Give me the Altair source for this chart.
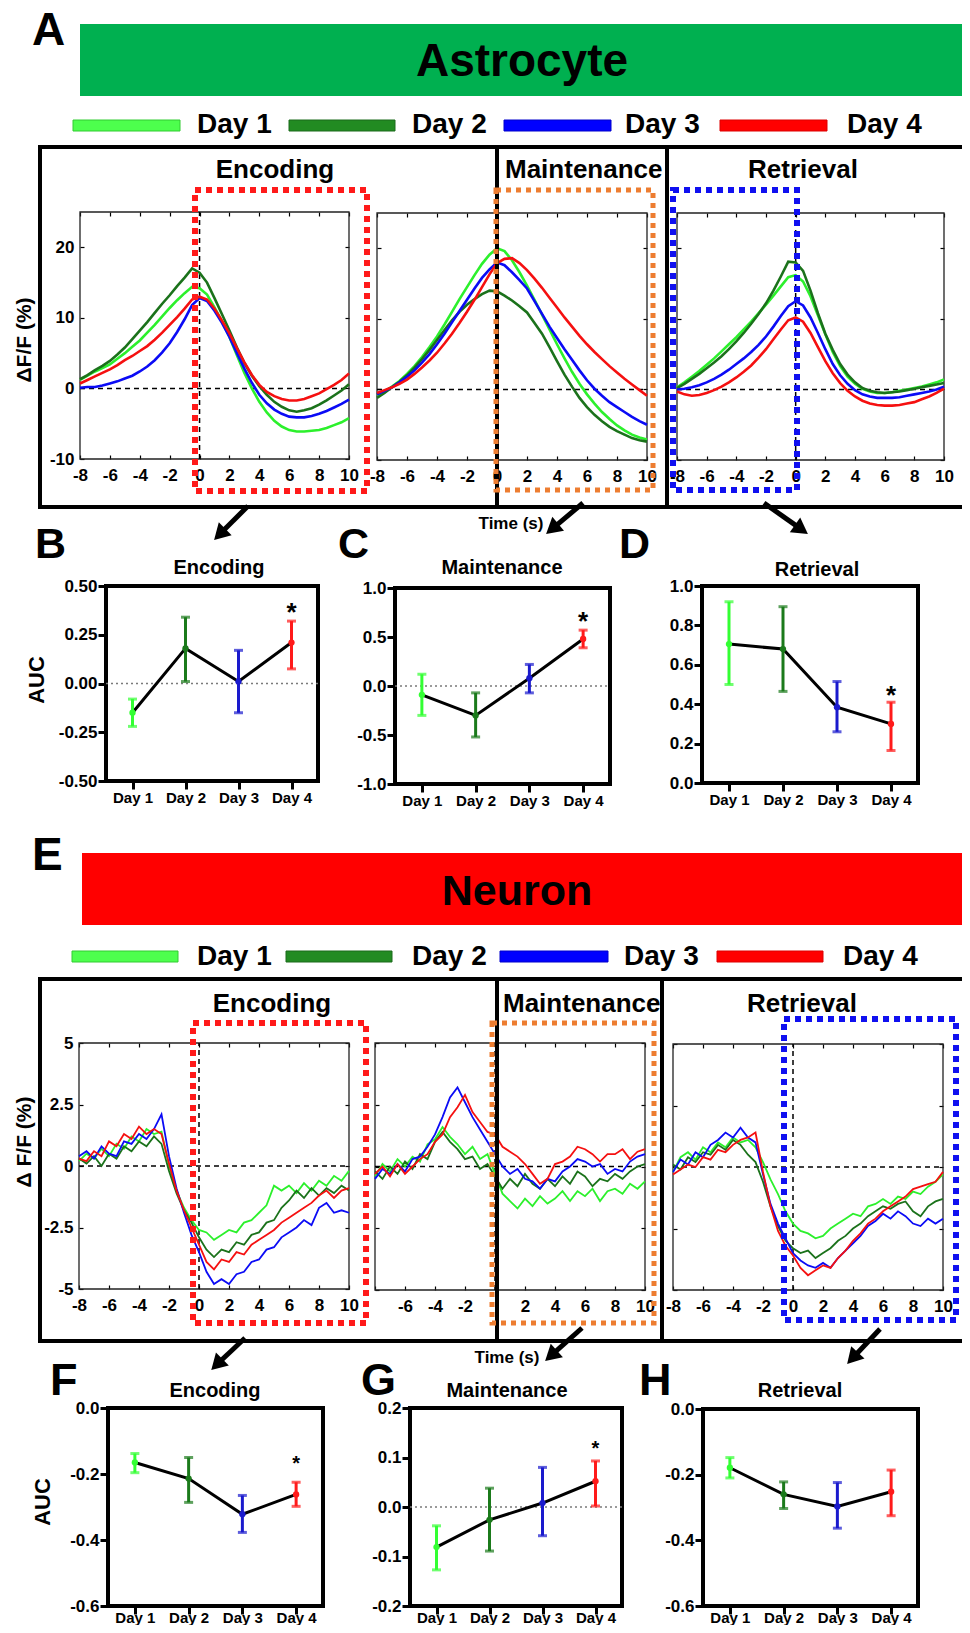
import altair as alt
import pandas as pd

# ---------------------------------------------------------------- page geometry
M = 8                      # page margin
W, H = 954, 1617           # drawing size (reference pixels minus margins)
FONT = "Liberation Sans"

# ---------------------------------------------------------------- data
DAYS = ["Day 1", "Day 2", "Day 3", "Day 4"]
DAY_NUM = [1, 2, 3, 4]
TRACE_COLORS = ["#2cf02c", "#1b721b", "#0b0bf5", "#f51010"]
AUC_COLORS = ["#33ff33", "#1b7a1b", "#1a1acd", "#ff1a1a"]
LEGEND_FILL = ["#4dff4d", "#228b22", "#0000ff", "#ff0000"]
LEGEND_EDGE = ["#33cc33", "#1a6b1a", "#0000cc", "#dd0000"]

TIME = [-8.0, -7.5, -7.0, -6.5, -6.0, -5.5, -5.0, -4.5, -4.0, -3.5, -3.0, -2.5, -2.0, -1.5, -1.0, -0.5,
        0.0, 0.5, 1.0, 1.5, 2.0, 2.5, 3.0, 3.5, 4.0, 4.5, 5.0, 5.5, 6.0, 6.5, 7.0, 7.5, 8.0, 8.5, 9.0, 9.5, 10.0]

# Astrocyte dF/F (%) traces
AST_ENC_D1 = [1.2, 1.8, 2.4, 2.9, 3.4, 4.2, 5.0, 5.9, 6.8, 7.9, 9.0, 10.2, 11.4, 12.5, 13.5, 14.4,
              14.2, 13.3, 11.5, 9.5, 7.3, 4.7, 2.2, 0.0, -1.9, -3.4, -4.6, -5.4, -5.9, -6.1, -6.1, -6.0, -5.9, -5.6, -5.2, -4.8, -4.2]
AST_ENC_D2 = [1.3, 1.9, 2.6, 3.2, 3.9, 4.8, 5.8, 7.0, 8.2, 9.4, 10.7, 12.0, 13.2, 14.5, 15.7, 17.0,
              16.4, 15.0, 12.8, 10.5, 8.2, 5.8, 3.6, 1.8, 0.3, -0.9, -1.9, -2.6, -3.1, -3.3, -3.1, -2.8, -2.3, -1.7, -1.0, -0.3, 0.6]
AST_ENC_D3 = [0.1, 0.2, 0.2, 0.4, 0.7, 1.0, 1.4, 1.8, 2.4, 3.1, 4.0, 5.1, 6.4, 8.0, 9.8, 11.8,
              12.8, 12.4, 11.0, 9.3, 7.3, 5.0, 2.8, 0.8, -0.9, -2.1, -3.0, -3.6, -4.0, -4.1, -4.1, -3.9, -3.6, -3.2, -2.7, -2.2, -1.6]
AST_ENC_D4 = [0.7, 1.2, 1.7, 2.2, 2.7, 3.3, 4.0, 4.6, 5.3, 6.0, 6.9, 7.9, 9.0, 10.1, 11.3, 12.6,
              13.0, 12.6, 11.3, 9.6, 7.8, 5.7, 3.7, 1.9, 0.5, -0.5, -1.1, -1.5, -1.7, -1.7, -1.5, -1.1, -0.7, -0.1, 0.5, 1.2, 2.1]

AST_MNT_D1 = [-0.8, -0.3, 0.4, 1.2, 2.2, 3.3, 4.6, 6.0, 7.5, 9.2, 11.0, 12.8, 14.5, 16.2, 17.8, 19.1,
              20.0, 19.6, 18.3, 16.6, 14.7, 12.7, 10.6, 8.5, 6.4, 4.4, 2.5, 0.8, -0.7, -2.0, -3.2, -4.2, -5.1, -5.8, -6.4, -6.8, -7.1]
AST_MNT_D2 = [-1.2, -0.5, 0.3, 1.1, 2.0, 3.1, 4.3, 5.6, 7.0, 8.4, 9.8, 11.0, 12.0, 12.8, 13.5, 14.0,
              13.9, 13.3, 12.6, 11.8, 10.9, 9.4, 7.9, 6.0, 4.0, 2.1, 0.4, -1.2, -2.5, -3.6, -4.5, -5.3, -5.9, -6.4, -6.9, -7.2, -7.4]
AST_MNT_D3 = [-0.7, -0.2, 0.3, 1.0, 1.8, 2.7, 3.8, 5.0, 6.4, 7.9, 9.5, 11.1, 12.7, 14.3, 15.8, 17.0,
              18.0, 17.6, 16.6, 15.5, 14.3, 12.5, 10.7, 8.9, 7.3, 5.7, 4.2, 2.7, 1.3, 0.1, -0.9, -1.8, -2.5, -3.2, -3.9, -4.5, -5.0]
AST_MNT_D4 = [-0.5, -0.1, 0.3, 0.8, 1.4, 2.2, 3.1, 4.1, 5.2, 6.5, 7.9, 9.4, 11.0, 12.7, 14.5, 16.3,
              17.9, 18.5, 18.6, 17.9, 16.9, 15.7, 14.4, 13.0, 11.6, 10.2, 8.9, 7.6, 6.4, 5.3, 4.3, 3.3, 2.4, 1.5, 0.7, -0.1, -0.9]

AST_RET_D1 = [0.3, 1.0, 1.8, 2.6, 3.5, 4.4, 5.4, 6.4, 7.4, 8.5, 9.6, 10.8, 12.0, 13.3, 14.6, 15.9,
              16.2, 15.3, 13.2, 10.5, 7.8, 5.3, 3.3, 1.8, 0.8, 0.1, -0.3, -0.5, -0.5, -0.4, -0.2, 0.0, 0.2, 0.4, 0.7, 1.0, 1.4]
AST_RET_D2 = [0.2, 0.8, 1.5, 2.2, 3.0, 3.8, 4.7, 5.7, 6.8, 8.0, 9.3, 10.7, 12.2, 14.0, 16.0, 18.1,
              18.0, 16.8, 14.0, 10.8, 7.9, 5.6, 3.6, 2.1, 1.0, 0.2, -0.2, -0.4, -0.5, -0.4, -0.3, -0.1, 0.1, 0.3, 0.5, 0.7, 0.9]
AST_RET_D3 = [0.0, 0.1, 0.3, 0.6, 1.0, 1.5, 2.1, 2.8, 3.6, 4.4, 5.3, 6.3, 7.5, 8.9, 10.4, 11.8,
              12.5, 11.9, 10.2, 8.0, 5.7, 3.6, 2.0, 0.8, -0.1, -0.7, -1.0, -1.2, -1.2, -1.2, -1.1, -0.9, -0.7, -0.5, -0.3, 0.0, 0.4]
AST_RET_D4 = [-0.3, -0.7, -0.9, -0.8, -0.5, -0.1, 0.4, 1.0, 1.7, 2.5, 3.4, 4.5, 5.7, 7.1, 8.5, 9.8,
              10.2, 9.6, 8.0, 6.0, 4.0, 2.3, 0.9, -0.2, -1.0, -1.6, -2.0, -2.2, -2.3, -2.3, -2.2, -2.0, -1.8, -1.4, -1.0, -0.5, 0.1]

# Neuron dF/F (%) traces
NEU_ENC_D1 = [0.2, 0.5, 0.3, 0.7, 0.4, 0.9, 0.7, 1.2, 1.0, 1.5, 1.3, 1.4, 0.0, -1.0, -1.7, -2.2,
              -2.6, -2.7, -3.0, -2.8, -2.6, -2.7, -2.3, -2.2, -1.9, -1.6, -0.8, -1.0, -0.8, -1.1, -0.7, -1.0, -0.6, -0.8, -0.4, -0.6, -0.2]
NEU_ENC_D2 = [0.3, 0.1, 0.4, 0.0, 0.5, 0.3, 0.8, 0.6, 1.0, 0.8, 1.2, 0.9, -0.2, -1.1, -1.8, -2.3,
              -2.9, -3.4, -3.7, -3.4, -3.5, -3.1, -3.2, -2.8, -2.7, -2.3, -2.2, -1.7, -1.4, -1.0, -1.3, -0.9, -1.2, -0.9, -1.1, -0.8, -1.0]
NEU_ENC_D3 = [0.4, 0.6, 0.3, 0.8, 0.5, 0.4, 1.0, 0.9, 1.3, 1.1, 1.5, 2.1, 0.4, -0.9, -1.9, -2.8,
              -3.5, -4.3, -4.8, -4.6, -4.8, -4.4, -4.3, -3.9, -3.8, -3.4, -3.3, -2.9, -2.7, -2.5, -2.2, -2.4, -1.7, -1.5, -1.9, -1.8, -1.9]
NEU_ENC_D4 = [0.3, 0.2, 0.6, 0.4, 1.0, 0.8, 1.3, 1.1, 1.6, 1.3, 1.5, 1.3, 0.1, -1.0, -1.8, -2.5,
              -3.2, -3.9, -4.2, -3.8, -3.9, -3.5, -3.6, -3.2, -3.0, -2.8, -2.6, -2.3, -2.1, -1.9, -1.7, -1.5, -1.2, -1.0, -1.3, -1.0, -0.9]

NEU_MNT_D1 = [-0.4, 0.1, -0.2, 0.3, 0.0, 0.4, 0.2, 0.9, 1.1, 1.6, 1.2, 0.9, 0.5, 0.8, 0.3, 0.5,
              -0.3, -1.1, -1.4, -1.7, -1.3, -1.6, -1.2, -1.5, -1.3, -1.0, -1.4, -1.0, -1.2, -0.9, -1.4, -1.0, -0.9, -1.1, -0.7, -0.9, -0.6]
NEU_MNT_D2 = [-0.2, -0.5, 0.0, -0.3, 0.2, -0.1, 0.5, 0.3, 1.0, 1.4, 1.0, 0.7, 0.3, 0.4, -0.1, 0.1,
              -0.4, -0.9, -0.5, -0.8, -0.3, -0.7, -0.9, -0.5, -0.8, -0.4, -0.7, -0.2, -0.4, -0.8, -0.5, -0.6, -0.3, -0.5, -0.2, 0.0, 0.1]
NEU_MNT_D3 = [-0.5, -0.1, -0.3, 0.1, -0.2, 0.3, 0.4, 0.8, 1.3, 2.0, 2.8, 3.2, 2.6, 2.0, 1.5, 1.0,
              0.5, 0.0, -0.3, -0.1, -0.5, -0.6, -0.9, -0.5, -0.6, -0.2, 0.0, 0.3, 0.2, 0.0, 0.1, -0.3, -0.1, -0.2, 0.2, 0.4, 0.5]
NEU_MNT_D4 = [-0.3, 0.0, -0.4, 0.1, -0.3, 0.0, 0.3, 0.5, 1.0, 1.3, 2.0, 2.4, 2.9, 2.2, 1.8, 1.4,
              1.3, 0.8, 0.6, 0.4, 0.1, -0.3, -0.7, -0.5, 0.1, 0.2, 0.4, 0.8, 0.7, 0.5, 0.2, 0.5, 0.5, 0.7, 0.3, 0.6, 0.7]

NEU_RET_D1 = [-0.2, 0.4, 0.6, 0.3, 0.8, 0.6, 1.0, 0.8, 1.2, 1.0, 1.1, 0.8, 0.2, -0.5, -1.1, -1.8,
              -2.3, -2.6, -2.7, -2.9, -2.8, -2.5, -2.3, -2.1, -1.9, -2.0, -1.6, -1.5, -1.3, -1.5, -1.2, -1.3, -1.0, -1.1, -0.8, -0.6, -0.3]
NEU_RET_D2 = [0.1, -0.1, 0.4, 0.2, 0.6, 0.5, 0.9, 0.7, 1.1, 0.9, 0.5, 0.2, -0.6, -1.6, -2.4, -3.0,
              -3.3, -3.5, -3.4, -3.7, -3.5, -3.3, -3.0, -2.8, -2.5, -2.3, -2.0, -1.8, -1.6, -1.7, -1.5, -1.4, -1.8, -2.0, -1.6, -1.4, -1.3]
NEU_RET_D3 = [-0.2, 0.3, 0.1, 0.6, 0.4, 0.9, 1.1, 1.4, 1.2, 1.6, 1.2, 1.0, -0.3, -1.5, -2.3, -2.9,
              -3.5, -3.8, -4.0, -4.1, -3.9, -4.1, -3.7, -3.4, -3.1, -2.8, -2.4, -2.2, -1.9, -2.1, -1.8, -2.0, -2.3, -2.4, -2.1, -2.3, -2.1]
NEU_RET_D4 = [-0.3, -0.1, 0.1, 0.0, 0.4, 0.3, 0.7, 0.6, 0.9, 1.1, 1.2, 1.4, -0.2, -1.6, -2.6, -3.2,
              -3.6, -4.1, -4.4, -4.2, -4.0, -4.1, -3.7, -3.4, -3.0, -2.7, -2.3, -2.1, -1.8, -1.6, -1.4, -1.2, -0.9, -0.8, -0.7, -0.6, -0.2]

# AUC summaries (mean, lower, upper error)
B_MEAN = [-0.15, 0.18, 0.01, 0.21]
B_LO = [-0.22, 0.01, -0.15, 0.075]
B_HI = [-0.08, 0.34, 0.17, 0.32]
C_MEAN = [-0.09, -0.30, 0.08, 0.48]
C_LO = [-0.30, -0.52, -0.07, 0.39]
C_HI = [0.12, -0.07, 0.22, 0.57]
D_MEAN = [0.705, 0.68, 0.385, 0.30]
D_LO = [0.50, 0.465, 0.26, 0.165]
D_HI = [0.92, 0.895, 0.515, 0.41]
F_MEAN = [-0.165, -0.214, -0.322, -0.262]
F_LO = [-0.196, -0.286, -0.377, -0.298]
F_HI = [-0.138, -0.15, -0.265, -0.225]
G_MEAN = [-0.081, -0.026, 0.008, 0.052]
G_LO = [-0.127, -0.089, -0.058, 0.002]
G_HI = [-0.038, 0.038, 0.08, 0.093]
H_MEAN = [-0.179, -0.26, -0.297, -0.252]
H_LO = [-0.21, -0.303, -0.363, -0.325]
H_HI = [-0.148, -0.222, -0.224, -0.186]

for s in [AST_ENC_D1, AST_ENC_D2, AST_ENC_D3, AST_ENC_D4, AST_MNT_D1, AST_MNT_D2, AST_MNT_D3, AST_MNT_D4,
          AST_RET_D1, AST_RET_D2, AST_RET_D3, AST_RET_D4, NEU_ENC_D1, NEU_ENC_D2, NEU_ENC_D3, NEU_ENC_D4,
          NEU_MNT_D1, NEU_MNT_D2, NEU_MNT_D3, NEU_MNT_D4, NEU_RET_D1, NEU_RET_D2, NEU_RET_D3, NEU_RET_D4]:
    assert len(s) == len(TIME), len(s)

# ---------------------------------------------------------------- layout (reference pixels)
TRACE_BOX = {
    "ast_enc": (80, 349, 212, 459), "ast_mnt": (377, 647, 213, 460), "ast_ret": (677, 944, 213, 460),
    "neu_enc": (79, 349, 1043, 1289), "neu_mnt": (375, 645, 1043, 1290), "neu_ret": (673, 943, 1044, 1290),
}
AUC_BOX = {
    "B": (106, 318, 586, 781), "C": (395, 610, 588, 784), "D": (702, 918, 586, 783),
    "F": (108, 323, 1408, 1606), "G": (410, 622, 1408, 1606), "H": (703, 918, 1409, 1606),
}

# ---------------------------------------------------------------- helpers
def sx(dom, a, b):
    return alt.Scale(domain=dom, range=[a - M, b - M], nice=False, zero=False)


def sy(dom, top, bot):
    return alt.Scale(domain=dom, range=[bot - M, top - M], nice=False, zero=False)


def axis(orient, pos, **kw):
    if orient == "bottom":
        off = (pos - M) - H
    elif orient == "top":
        off = -(pos - M)
    elif orient == "left":
        off = -(pos - M)
    else:
        off = (pos - M) - W
    d = dict(grid=False, labelFont=FONT, labelFontWeight="bold", labelColor="black",
             tickColor="black", domain=False, labelOverlap=False, labelFlush=False, labelBound=False)
    d.update(kw)
    return alt.Axis(orient=orient, offset=off, **d)


LX = alt.Scale(domain=[M, M + W], range=[0, W], nice=False, zero=False)
LY = alt.Scale(domain=[M, M + H], range=[0, H], nice=False, zero=False)


def LXc(f):
    return alt.X(f + ":Q", scale=LX, axis=None)


def LYc(f):
    return alt.Y(f + ":Q", scale=LY, axis=None)


XT = [-8, -6, -4, -2, 0, 2, 4, 6, 8, 10]


def trace_panel(series, box, ydom, yticks, sw, xlabel_expr, show_ylabels):
    x0, x1, yt, yb = box
    SX = sx([-8, 10], x0, x1)
    SY = sy(ydom, yt, yb)
    rows = []
    for i, d in enumerate(DAYS):
        for t, v in zip(TIME, series[i]):
            rows.append({"t": t, "v": v, "day": d, "c": TRACE_COLORS[i]})
    df = pd.DataFrame(rows)
    out = []
    frame = pd.DataFrame({"x": [-8], "x2": [10], "y": [ydom[0]], "y2": [ydom[1]]})
    out.append(alt.Chart(frame).mark_rect(fillOpacity=0, stroke="#222", strokeWidth=1.3).encode(
        x=alt.X("x:Q", scale=SX, title=None,
                axis=axis("top", yb, values=XT, labels=False, tickSize=4, tickWidth=1.2)),
        x2=alt.X2("x2"),
        y=alt.Y("y:Q", scale=SY, title=None,
                axis=axis("right", x0, values=yticks, labels=False, tickSize=4, tickWidth=1.2)),
        y2=alt.Y2("y2")))
    zl = pd.DataFrame({"x": [-8, 0], "x2": [10, 0], "y": [0, ydom[0]], "y2": [0, ydom[1]]})
    out.append(alt.Chart(zl).mark_rule(color="black", strokeDash=[5, 4], strokeWidth=1.5).encode(
        x=alt.X("x:Q", scale=SX, title=None,
                axis=axis("bottom", yt, values=XT, labels=False, tickSize=4, tickWidth=1.2)),
        x2=alt.X2("x2"),
        y=alt.Y("y:Q", scale=SY, title=None,
                axis=axis("left", x1, values=yticks, labels=False, tickSize=4, tickWidth=1.2)),
        y2=alt.Y2("y2")))
    xlab = axis("bottom", yb, values=XT, ticks=False, tickSize=0, labelFontSize=17, labelPadding=8,
                labelExpr=xlabel_expr)
    if show_ylabels:
        ylab = axis("left", x0, values=yticks, ticks=False, tickSize=0, labelFontSize=17, labelPadding=6,
                    labelExpr="'' + datum.value")
    else:
        ylab = None
    out.append(alt.Chart(df).mark_line(strokeWidth=sw).encode(
        x=alt.X("t:Q", scale=SX, axis=xlab, title=None),
        y=alt.Y("v:Q", scale=SY, axis=ylab, title=None),
        color=alt.Color("c:N", scale=None),
        detail=alt.Detail("day:N")))
    return out


def auc_panel(mean, lo, hi, box, ydom, yticks, yfmt, zero_line, star_dy=None, star_fs=26, xpad=1):
    x0, x1, yt, yb = box
    SX = sx([0.5, 4.5], x0, x1)
    SY = sy(ydom, yt, yb)
    df = pd.DataFrame({"d": DAY_NUM, "m": mean, "lo": lo, "hi": hi, "c": AUC_COLORS})
    caps = pd.DataFrame({"d": DAY_NUM + DAY_NUM, "y": lo + hi, "c": AUC_COLORS + AUC_COLORS})
    out = []
    frame = pd.DataFrame({"x": [0.5], "x2": [4.5], "y": [ydom[0]], "y2": [ydom[1]]})
    xa = axis("bottom", yb, values=DAY_NUM, labelExpr="'Day ' + datum.value", labelFontSize=15,
              tickSize=8, tickWidth=3, labelPadding=xpad)
    ya = axis("left", x0, values=yticks,
              labelExpr="replace(format(datum.value, '" + yfmt + "'), '\u2212', '-')",
              labelFontSize=17, tickSize=8, tickWidth=3, labelPadding=1)
    out.append(alt.Chart(frame).mark_rect(fillOpacity=0, stroke="black", strokeWidth=4).encode(
        x=alt.X("x:Q", scale=SX, axis=xa, title=None), x2=alt.X2("x2"),
        y=alt.Y("y:Q", scale=SY, axis=ya, title=None), y2=alt.Y2("y2")))
    if zero_line:
        z = pd.DataFrame({"x": [0.5], "x2": [4.5], "y": [0.0]})
        out.append(alt.Chart(z).mark_rule(color="#7a7a7a", strokeDash=[2, 3], strokeWidth=1.6).encode(
            x=alt.X("x:Q", scale=SX, axis=None), x2=alt.X2("x2"),
            y=alt.Y("y:Q", scale=SY, axis=None)))
    out.append(alt.Chart(df).mark_line(color="black", strokeWidth=3).encode(
        x=alt.X("d:Q", scale=SX, axis=None), y=alt.Y("m:Q", scale=SY, axis=None)))
    out.append(alt.Chart(df).mark_rule(strokeWidth=3).encode(
        x=alt.X("d:Q", scale=SX, axis=None), y=alt.Y("lo:Q", scale=SY, axis=None), y2=alt.Y2("hi"),
        color=alt.Color("c:N", scale=None)))
    out.append(alt.Chart(caps).mark_tick(orient="horizontal", size=9, thickness=3).encode(
        x=alt.X("d:Q", scale=SX, axis=None), y=alt.Y("y:Q", scale=SY, axis=None),
        color=alt.Color("c:N", scale=None)))
    out.append(alt.Chart(df).mark_point(filled=True, size=40, opacity=1).encode(
        x=alt.X("d:Q", scale=SX, axis=None), y=alt.Y("m:Q", scale=SY, axis=None),
        color=alt.Color("c:N", scale=None)))
    if star_dy is not None:
        st = pd.DataFrame({"d": [4], "y": [hi[3]]})
        out.append(alt.Chart(st).mark_text(text="*", font=FONT, fontSize=star_fs, fontWeight="bold",
                                           align="center", baseline="alphabetic", dy=star_dy,
                                           color="black").encode(
            x=alt.X("d:Q", scale=SX, axis=None), y=alt.Y("y:Q", scale=SY, axis=None)))
    return out


layers = []

# ---------------------------------------------------------------- banners and legends
ban = pd.DataFrame({"x": [80, 82], "x2": [964, 964], "y": [24, 853], "y2": [96, 925],
                    "f": ["#00b050", "#ff0000"]})
layers.append(alt.Chart(ban).mark_rect().encode(
    x=LXc("x"), x2=alt.X2("x2"), y=LYc("y"), y2=alt.Y2("y2"), color=alt.Color("f:N", scale=None)))

LEG_X = [(73, 180), (289, 395), (504, 611), (720, 827), (72, 178), (286, 392), (500, 608), (717, 823)]
LEG_Y = [(120, 131)] * 4 + [(951, 962)] * 4
leg = pd.DataFrame({"x": [a for a, b in LEG_X], "x2": [b for a, b in LEG_X],
                    "y": [a for a, b in LEG_Y], "y2": [b for a, b in LEG_Y],
                    "f": LEGEND_FILL * 2, "e": LEGEND_EDGE * 2})
layers.append(alt.Chart(leg).mark_rect(strokeWidth=1).encode(
    x=LXc("x"), x2=alt.X2("x2"), y=LYc("y"), y2=alt.Y2("y2"),
    color=alt.Color("f:N", scale=None), stroke=alt.Stroke("e:N", scale=None)))

# ---------------------------------------------------------------- trace panels
ALL = "'' + datum.value"
layers += trace_panel([AST_ENC_D1, AST_ENC_D2, AST_ENC_D3, AST_ENC_D4], TRACE_BOX["ast_enc"],
                      [-10, 25], [-10, 0, 10, 20], 2.6, ALL, True)
layers += trace_panel([AST_MNT_D1, AST_MNT_D2, AST_MNT_D3, AST_MNT_D4], TRACE_BOX["ast_mnt"],
                      [-10, 25], [-10, 0, 10, 20], 2.6, ALL, False)
layers += trace_panel([AST_RET_D1, AST_RET_D2, AST_RET_D3, AST_RET_D4], TRACE_BOX["ast_ret"],
                      [-10, 25], [-10, 0, 10, 20], 2.6, ALL, False)
layers += trace_panel([NEU_ENC_D1, NEU_ENC_D2, NEU_ENC_D3, NEU_ENC_D4], TRACE_BOX["neu_enc"],
                      [-5, 5], [-5, -2.5, 0, 2.5, 5], 1.8, ALL, True)
layers += trace_panel([NEU_MNT_D1, NEU_MNT_D2, NEU_MNT_D3, NEU_MNT_D4], TRACE_BOX["neu_mnt"],
                      [-5, 5], [-5, -2.5, 0, 2.5, 5], 1.8,
                      "datum.value == -8 || datum.value == 0 ? '' : '' + datum.value", False)
layers += trace_panel([NEU_RET_D1, NEU_RET_D2, NEU_RET_D3, NEU_RET_D4], TRACE_BOX["neu_ret"],
                      [-5, 5], [-5, -2.5, 0, 2.5, 5], 1.8, ALL, False)

# ---------------------------------------------------------------- AUC panels
layers += auc_panel(B_MEAN, B_LO, B_HI, AUC_BOX["B"], [-0.5, 0.5], [-0.5, -0.25, 0, 0.25, 0.5], ".2f", True, 0, 26)
layers += auc_panel(C_MEAN, C_LO, C_HI, AUC_BOX["C"], [-1, 1], [-1, -0.5, 0, 0.5, 1], ".1f", True, 0, 26)
layers += auc_panel(D_MEAN, D_LO, D_HI, AUC_BOX["D"], [0, 1], [0, 0.2, 0.4, 0.6, 0.8, 1.0], ".1f", False, 2, 26)
layers += auc_panel(F_MEAN, F_LO, F_HI, AUC_BOX["F"], [-0.6, 0], [-0.6, -0.4, -0.2, 0], ".1f", False, -12, 20, -4)
layers += auc_panel(G_MEAN, G_LO, G_HI, AUC_BOX["G"], [-0.2, 0.2], [-0.2, -0.1, 0, 0.1, 0.2], ".1f", True, -6, 20, -4)
layers += auc_panel(H_MEAN, H_LO, H_HI, AUC_BOX["H"], [-0.6, 0], [-0.6, -0.4, -0.2, 0], ".1f", False, None, 26, -4)

# ---------------------------------------------------------------- frames, dotted boxes
frames = pd.DataFrame({"x": [40, 40], "x2": [965, 965], "y": [147, 979], "y2": [507, 1341]})
layers.append(alt.Chart(frames).mark_rect(fillOpacity=0, stroke="black", strokeWidth=4).encode(
    x=LXc("x"), x2=alt.X2("x2"), y=LYc("y"), y2=alt.Y2("y2")))
divs = pd.DataFrame({"x": [497, 667, 497, 662], "y": [147, 147, 979, 979], "y2": [507, 507, 1341, 1341]})
layers.append(alt.Chart(divs).mark_rule(color="black", strokeWidth=4).encode(
    x=LXc("x"), y=LYc("y"), y2=alt.Y2("y2")))

boxes = pd.DataFrame({"x": [195, 673, 193, 784], "x2": [367, 797, 366, 956],
                      "y": [190, 190, 1023, 1019], "y2": [491, 490, 1323, 1320],
                      "s": ["#ff1a1a", "#1010f0", "#ff1a1a", "#1010f0"]})
layers.append(alt.Chart(boxes).mark_rect(fillOpacity=0, strokeWidth=6, strokeDash=[6, 5]).encode(
    x=LXc("x"), x2=alt.X2("x2"), y=LYc("y"), y2=alt.Y2("y2"), stroke=alt.Stroke("s:N", scale=None)))
oboxes = pd.DataFrame({"x": [496, 492], "x2": [653, 654], "y": [190, 1023], "y2": [490, 1323]})
layers.append(alt.Chart(oboxes).mark_rect(fillOpacity=0, strokeWidth=5, strokeDash=[5, 5], stroke="#ed7d31").encode(
    x=LXc("x"), x2=alt.X2("x2"), y=LYc("y"), y2=alt.Y2("y2")))

# ---------------------------------------------------------------- arrows
ARROWS = [((248, 506), (214, 540), 225), ((583, 503), (546, 534), 230), ((764, 503), (808, 534), 125),
          ((245, 1338), (211, 1370), 225), ((582, 1328), (545, 1361), 228), ((880, 1329), (847, 1364), 223)]
shaft, heads = [], []
for (s0, s1), (t0, t1), ang in ARROWS:
    dx, dy = t0 - s0, t1 - s1
    L = (dx * dx + dy * dy) ** 0.5
    cx, cy = t0 - 8 * dx / L, t1 - 8 * dy / L
    shaft.append({"x": s0, "y": s1, "x2": cx, "y2": cy})
    heads.append({"x": cx, "y": cy, "a": ang})
layers.append(alt.Chart(pd.DataFrame(shaft)).mark_rule(color="black", strokeWidth=5).encode(
    x=LXc("x"), x2=alt.X2("x2"), y=LYc("y"), y2=alt.Y2("y2")))
layers.append(alt.Chart(pd.DataFrame(heads)).mark_point(shape="triangle-up", filled=True, size=330,
                                                         color="black", opacity=1).encode(
    x=LXc("x"), y=LYc("y"), angle=alt.Angle("a:Q", scale=None)))

# ---------------------------------------------------------------- texts
TXT_C = [("Astrocyte", 522, 76, 46), ("Neuron", 517, 905, 43),
         ("Encoding", 275, 178, 26), ("Retrieval", 803, 178, 26),
         ("Encoding", 272, 1012, 26), ("Retrieval", 802, 1012, 26),
         ("Time (s)", 511, 529, 17), ("Time (s)", 507, 1363, 17),
         ("Encoding", 219, 574, 20), ("Maintenance", 502, 574, 20), ("Retrieval", 817, 576, 20),
         ("Encoding", 215, 1397, 20), ("Maintenance", 507, 1397, 20), ("Retrieval", 800, 1397, 20)]
TXT_L = [("Maintenance", 505, 178, 26), ("Maintenance", 503, 1012, 26),
         ("Day 1", 197, 133, 28), ("Day 2", 412, 133, 28), ("Day 3", 625, 133, 28), ("Day 4", 847, 133, 28),
         ("Day 1", 197, 965, 28), ("Day 2", 412, 965, 28), ("Day 3", 624, 965, 28), ("Day 4", 843, 965, 28),
         ("A", 32, 45, 46), ("B", 35, 558, 43), ("C", 338, 558, 43), ("D", 619, 558, 43),
         ("E", 32, 870, 46), ("F", 50, 1395, 45), ("G", 361, 1395, 45), ("H", 639, 1395, 45)]
TXT_R = [("\u0394F/F (%)", 25, 340, 21), ("\u0394 F/F (%)", 25, 1142, 21), ("AUC", 37, 680, 22), ("AUC", 43, 1502, 22)]


def text_df(items):
    return pd.DataFrame({"t": [a for a, b, c, d in items], "x": [b for a, b, c, d in items],
                         "y": [c for a, b, c, d in items], "fs": [d for a, b, c, d in items]})


for items, al, bl, ang in [(TXT_C, "center", "alphabetic", 0), (TXT_L, "left", "alphabetic", 0),
                           (TXT_R, "center", "middle", 270)]:
    layers.append(alt.Chart(text_df(items)).mark_text(font=FONT, fontWeight="bold", align=al, baseline=bl,
                                                      angle=ang, color="black").encode(
        x=LXc("x"), y=LYc("y"), text=alt.Text("t:N"), size=alt.Size("fs:Q", scale=None)))

chart = alt.layer(*layers).resolve_scale(x="independent", y="independent").properties(
    width=W, height=H, padding=0, autosize=alt.AutoSizeParams(type="none")
).configure_view(strokeWidth=0)

chart.save("out.html", embed_options={"renderer": "svg", "actions": False})
